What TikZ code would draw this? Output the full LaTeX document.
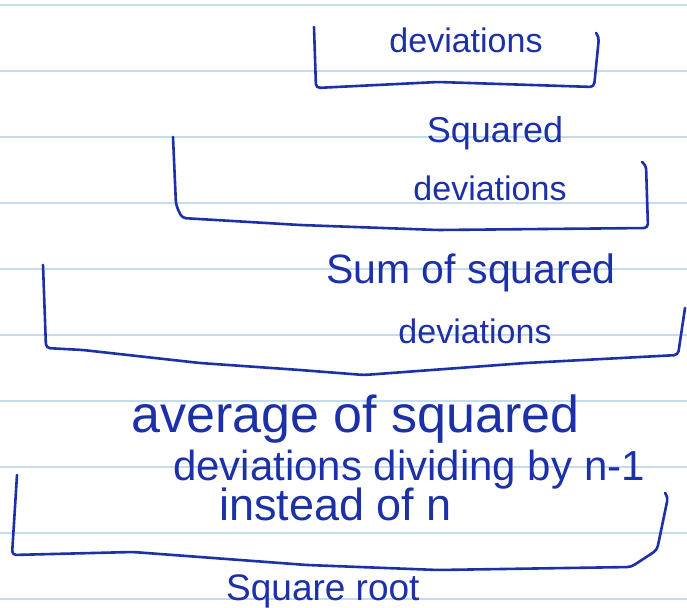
\documentclass[tikz,border=0pt]{standalone}
\usepackage{fontspec}
\setmainfont{Liberation Sans}
\definecolor{ink}{RGB}{28,48,168}
\definecolor{ruling}{RGB}{196,220,236}

\begin{document}
\begin{tikzpicture}[x=1pt,y=-1pt,
  rule/.style={draw=ruling,line width=1.6pt},
  pen/.style={draw=ink,line width=2.6pt,line cap=round,line join=round,rounded corners=4pt},
  hand/.style={text=ink,inner sep=0pt,font=\fontsize{#1}{#1}\selectfont}]
\fill[white] (0,0) rectangle (687,607);
\useasboundingbox (0,0) rectangle (687,607);
\foreach \y in {5,71,...,599}
  \draw[rule] (0,\y) -- (687,\y);
\draw[pen] (314,27) -- (316,88) -- (438,82) -- (594,87) -- (599,37) -- (596,33);
\draw[pen] (173,137) -- (176,205) -- (182,218) -- (300,225) -- (438,230) -- (648,228) -- (646,165) -- (642,162);
\draw[pen] (43,265) -- (46,348) -- (83,350) -- (200,363) -- (300,370) -- (364,375) -- (526,363) -- (678,355) -- (685,308);
\draw[pen] (17,475) -- (12,555) -- (133,552) -- (307,565) -- (438,570) -- (631,567) -- (657,550) -- (668,497) -- (665,493);
\node[hand=34,anchor=base] (dev) at (466,53) {deviations};
\node[hand=36,anchor=base] (sqA) at (495,142) {Squared};
\node[hand=34,anchor=base] (sqB) at (490,200) {deviations};
\node[hand=41,anchor=base] (sumA) at (471,283) {Sum of squared};
\node[hand=34,anchor=base] (sumB) at (475,343) {deviations};
\node[hand=52,anchor=base west] (avgA) at (131,432) {average of squared};
\node[hand=42,anchor=base west] (avgB) at (173,480) {deviations dividing by n-1};
\node[hand=45,anchor=base west] (avgC) at (219,520) {instead of n};
\node[hand=37,anchor=base west] (root) at (226,600) {Square root};
\end{tikzpicture}
\end{document}
